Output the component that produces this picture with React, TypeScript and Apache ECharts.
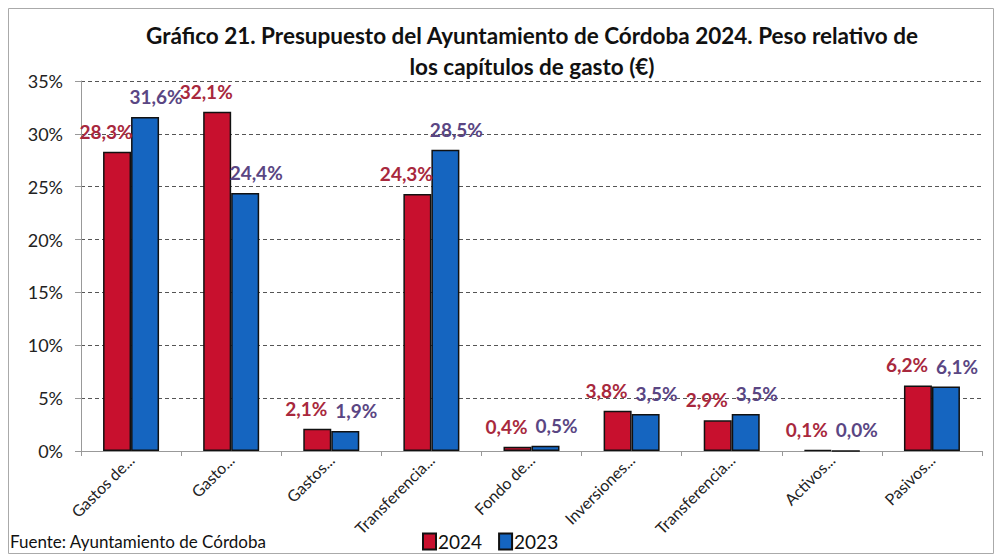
import React, { useEffect, useRef } from "react";
import * as echarts from "echarts";

const categories = [
  "Gastos de...",
  "Gasto...",
  "Gastos...",
  "Transferencia...",
  "Fondo de...",
  "Inversiones...",
  "Transferencia...",
  "Activos...",
  "Pasivos...",
];
const values2024 = [28.3, 32.1, 2.1, 24.3, 0.4, 3.8, 2.9, 0.1, 6.2];
const values2023 = [31.6, 24.4, 1.9, 28.5, 0.5, 3.5, 3.5, 0.0, 6.1];
const yTicks = [0, 5, 10, 15, 20, 25, 30, 35];

const FONT = "Lato, 'Open Sans', sans-serif";

const fmt = (v: number) => v.toFixed(1).replace(".", ",") + "%";

export default function App() {
  const ref = useRef<HTMLDivElement>(null);
  useEffect(() => {
    document.body.style.margin = "0";
    const chart = echarts.init(ref.current!, null, { renderer: "svg" });
    chart.setOption({
      animation: false,
      backgroundColor: "#ffffff",
      title: {
        text: "Gráfico 21. Presupuesto del Ayuntamiento de Córdoba 2024. Peso relativo de\nlos capítulos de gasto (€)",
        left: 527,
        top: 15,
        textAlign: "center",
        textStyle: {
          fontFamily: FONT,
          fontWeight: "bold",
          fontSize: 22.5,
          lineHeight: 31,
          color: "#111",
        },
      },
      legend: {
        left: 417,
        top: 527,
        itemWidth: 13,
        itemHeight: 16,
        itemGap: 16,
        icon: "rect",
        textStyle: { fontFamily: FONT, fontSize: 19, color: "#111", padding: [0, 0, 0, -3] },
        data: ["2024", "2023"],
      },
      graphic: [
        {
          type: "rect",
          shape: { x: 8.5, y: 8.5, width: 985, height: 545 },
          style: { fill: "none", stroke: "#aaa", lineWidth: 1 },
          silent: true,
        },
        {
          type: "text",
          left: 10,
          top: 533,
          style: {
            text: "Fuente: Ayuntamiento de Córdoba",
            fontFamily: FONT,
            fontSize: 17,
            fill: "#111",
          },
        },
      ],
      grid: { left: 81, right: 18, top: 81, bottom: 107, containLabel: false },
      xAxis: {
        type: "category",
        data: categories,
        axisLine: { lineStyle: { color: "#999", width: 1 } },
        axisTick: { show: true, length: 5, lineStyle: { color: "#999" } },
        axisLabel: {
          rotate: 45,
          interval: 0,
          margin: 6,
          padding: [10, 0, 0, 0],
          fontFamily: FONT,
          fontSize: 16,
          color: "#222",
        },
      },
      yAxis: {
        type: "value",
        min: 0,
        max: 35,
        interval: 5,
        axisLine: { show: true, lineStyle: { color: "#999", width: 1 } },
        axisTick: { show: true, length: 6, lineStyle: { color: "#999" } },
        axisLabel: {
          formatter: (v: number) => (yTicks.includes(v) ? v + "%" : ""),
          fontFamily: FONT,
          fontSize: 18,
          color: "#222",
          margin: 18,
        },
        splitLine: { lineStyle: { color: "#555", type: [4, 3], width: 1 } },
      },
      series: [
        {
          name: "2024",
          type: "bar",
          data: values2024,
          barWidth: 28,
          barGap: "0%",
          itemStyle: { color: "#c8102e", borderColor: "#111", borderWidth: 1.5 },
          label: {
            show: true,
            position: "top",
            distance: 11,
            offset: [-11, 0],
            formatter: (p: any) => fmt(p.value),
            fontFamily: FONT,
            fontWeight: "bold",
            fontSize: 19,
            color: "#a8283d",
          },
        },
        {
          name: "2023",
          type: "bar",
          data: values2023,
          barWidth: 28,
          itemStyle: { color: "#1565c0", borderColor: "#111", borderWidth: 1.5 },
          label: {
            show: true,
            position: "top",
            distance: 11,
            offset: [11, 0],
            formatter: (p: any) => fmt(p.value),
            fontFamily: FONT,
            fontWeight: "bold",
            fontSize: 19,
            color: "#5a4683",
          },
        },
      ],
    });
    return () => chart.dispose();
  }, []);
  return (
    <div
      ref={ref}
      style={{ position: "absolute", left: 0, top: 0, width: 1000, height: 558 }}
    />
  );
}
